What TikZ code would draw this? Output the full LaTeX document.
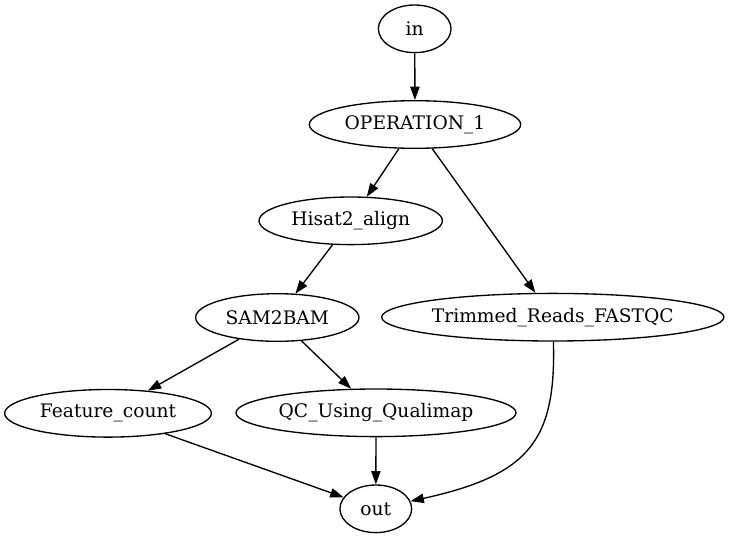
\documentclass[tikz,border=0pt]{standalone}
\usepackage{fontspec}
\setmainfont{DejaVu Serif}
\usetikzlibrary{shapes.geometric,arrows.meta}
\tikzset{
  gvnode/.style={draw, ellipse, line width=1pt, inner sep=0pt, minimum height=35.7pt, font=\fontsize{14pt}{16pt}\selectfont},
  gvedge/.style={line width=1pt, -{Triangle[length=10pt,width=7pt]}}
}
\begin{document}
\begin{tikzpicture}[x=0.75pt,y=-0.75pt]
\useasboundingbox (0,0) rectangle (730,539);
\node[gvnode, minimum width=54.5pt] (in) at (414.7,28.8) {in};
\node[gvnode, minimum width=158.5pt] (op) at (415,124.5) {OPERATION\_1};
\node[gvnode, minimum width=137.5pt] (hisat) at (350.7,220.8) {Hisat2\_align};
\node[gvnode, minimum width=122.5pt] (sam) at (277.3,317.5) {SAM2BAM};
\node[gvnode, minimum width=256.7pt] (trim) at (552.8,317.2) {Trimmed\_Reads\_FASTQC};
\node[gvnode, minimum width=155pt] (feat) at (108,413.3) {Feature\_count};
\node[gvnode, minimum width=210pt] (qc) at (376,412.8) {QC\_Using\_Qualimap};
\node[gvnode, minimum width=53.8pt] (out) at (375.8,508.8) {out};
\draw[gvedge] (in) -- (op);
\draw[gvedge] (op) -- (hisat);
\draw[gvedge] (op) -- (trim);
\draw[gvedge] (hisat) -- (sam);
\draw[gvedge] (sam) -- (feat);
\draw[gvedge] (sam) -- (qc);
\draw[gvedge] (feat) -- (out);
\draw[gvedge] (qc) -- (out);
\draw[gvedge] (trim) .. controls (556,440) and (530,475) .. (out);
\end{tikzpicture}
\end{document}
